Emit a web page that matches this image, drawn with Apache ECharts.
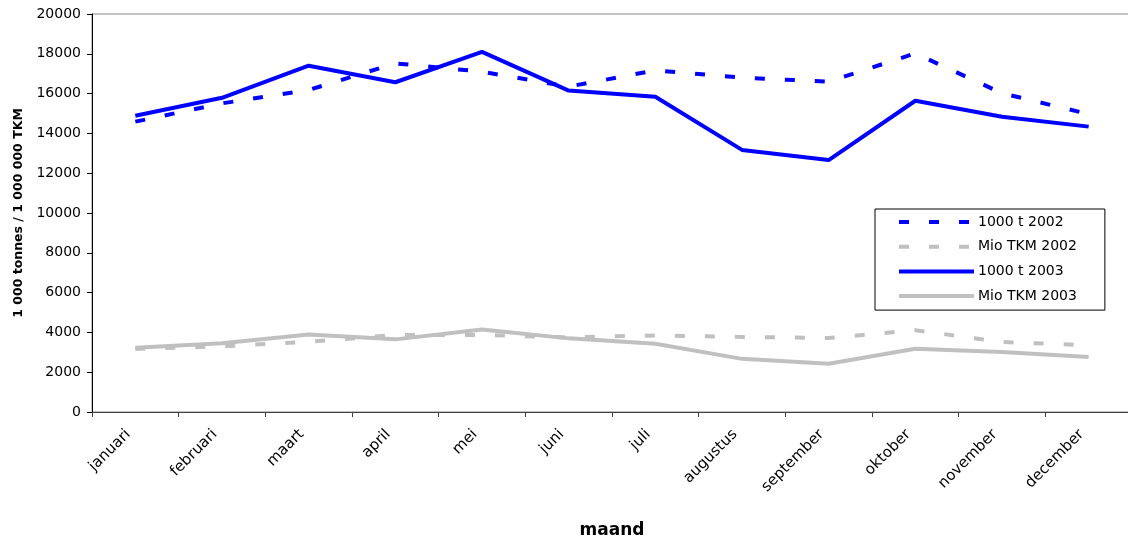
<!DOCTYPE html>
<html><head><meta charset="utf-8">
<script src="https://cdn.jsdelivr.net/npm/echarts@6/dist/echarts.min.js"></script>
<style>html,body{margin:0;padding:0;background:#fff;overflow:hidden;width:1128px;height:545px}#c{width:1140px;height:545px}</style>
</head><body><div id="c"></div>
<script>
const months = ['januari','februari','maart','april','mei','juni','juli','augustus','september','oktober','november','december'];
const t2002 = [14590,15510,16180,17520,17100,16350,17170,16800,16600,18020,16020,14970];
const tkm2002 = [3170,3300,3530,3870,3870,3750,3850,3770,3720,4110,3520,3350];
const t2003 = [14890,15790,17400,16570,18100,16150,15840,13170,12660,15640,14840,14340];
const tkm2003 = [3230,3450,3900,3650,4150,3700,3430,2670,2420,3180,3010,2760];
const yTicks = {min:0, max:20000, interval:2000};
const seriesNames = ['1000 t 2002','Mio TKM 2002','1000 t 2003','Mio TKM 2003'];

const font = 'DejaVu Sans, Verdana, sans-serif';
const BLUE = '#0000FF', GREY = '#C0C0C0', DASH = [10,20];
const chart = echarts.init(document.getElementById('c'));
function mk(name, data, color, dashed){
  return {name, type:'line', data, symbol:'none', animation:false,
    lineStyle:{color, width:4, type: dashed ? DASH : 'solid', cap:'butt'},
    itemStyle:{color}};
}
function leg(name, color, dashed){
  return {name, itemStyle:{opacity:0}, lineStyle:{color, width:4, type: dashed ? DASH : 'solid', cap:'butt'}};
}
chart.setOption({
  animation:false,
  grid:{left:92, top:14, right:8, bottom:133, show:true, borderColor:'#888', borderWidth:1},
  legend:{orient:'vertical', left:875, top:209, padding:[6,28,7,22], itemWidth:75, itemHeight:14, itemGap:10.7,
    borderColor:'#000', borderWidth:1, backgroundColor:'#fff', borderRadius:0,
    textStyle:{fontFamily:font, fontSize:14, color:'#000', padding:[0,0,0,-1]},
    data:[leg(seriesNames[0], BLUE, true), leg(seriesNames[1], GREY, true), leg(seriesNames[2], BLUE, false), leg(seriesNames[3], GREY, false)]},
  xAxis:{type:'category', data:months, boundaryGap:true,
    name:'maand', nameLocation:'middle', nameGap:110,
    nameTextStyle:{fontFamily:font, fontSize:17, fontWeight:'bold', color:'#000'},
    axisLine:{lineStyle:{color:'#404040', width:1}},
    axisTick:{show:true, length:5, lineStyle:{color:'#404040'}},
    axisLabel:{rotate:45, margin:13, padding:[0,10,0,0], fontFamily:font, fontSize:15, color:'#000'},
    splitLine:{show:false}},
  yAxis:{type:'value', min:yTicks.min, max:yTicks.max, interval:yTicks.interval,
    name:'1 000 tonnes / 1 000 000 TKM', nameLocation:'middle', nameGap:67,
    nameTextStyle:{fontFamily:font, fontSize:12.5, fontWeight:'bold', color:'#000'},
    axisLine:{show:true, lineStyle:{color:'#000', width:1}},
    axisTick:{show:true, length:5, lineStyle:{color:'#000'}},
    axisLabel:{margin:11, fontFamily:font, fontSize:14, color:'#000', formatter: v => String(v)},
    splitLine:{show:false}},
  series:[
    mk(seriesNames[0], t2002, BLUE, true),
    mk(seriesNames[1], tkm2002, GREY, true),
    mk(seriesNames[2], t2003, BLUE, false),
    mk(seriesNames[3], tkm2003, GREY, false)
  ]
});
</script></body></html>
